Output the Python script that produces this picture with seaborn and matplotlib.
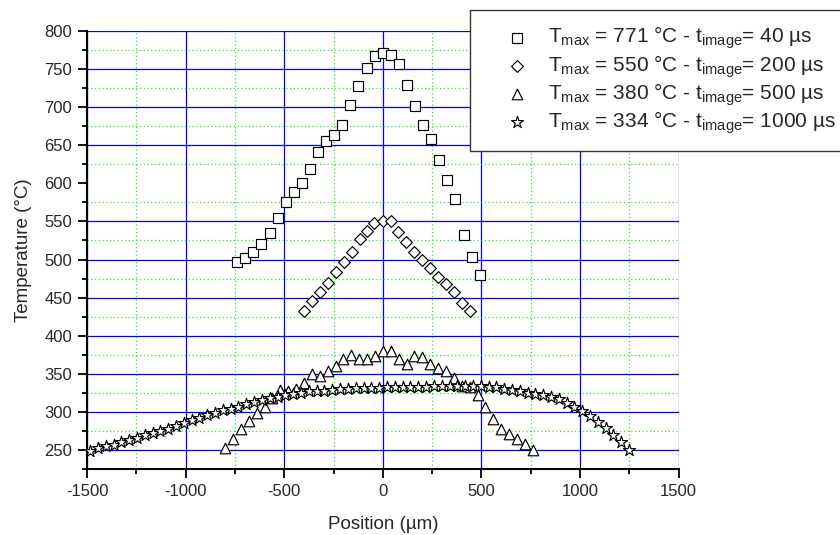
import matplotlib
matplotlib.use("Agg")
import matplotlib.pyplot as plt
from matplotlib.ticker import MultipleLocator
import seaborn as sns
import pandas as pd

# Temperature profiles across the heated zone for four image exposure times
pos_40us = [-740, -697, -657, -616, -574, -533, -493, -452, -410, -369, -329,
            -288, -248, -206, -165, -125, -82, -41, 0, 40, 80, 121, 163, 205,
            246, 286, 327, 367, 410, 451, 491]
temp_40us = [497, 502, 510, 521, 535, 554, 575, 588, 601, 619, 641, 655, 663,
             677, 703, 728, 752, 767, 771, 769, 757, 729, 702, 677, 658, 631,
             605, 580, 532, 503, 479]

pos_200us = [-401, -361, -320, -280, -239, -199, -158, -117, -80, -43, 0, 40,
             78, 119, 160, 200, 239, 279, 319, 360, 400, 442]
temp_200us = [432, 445, 457, 469, 483, 497, 510, 527, 537, 548, 550, 550, 536,
              523, 510, 499, 489, 477, 468, 457, 443, 432]

pos_500us = [-800, -760, -720, -680, -640, -600, -560, -520, -480, -440, -400,
             -360, -320, -280, -240, -200, -160, -120, -80, -40, 0, 40, 80,
             120, 160, 200, 240, 280, 320, 360, 400, 440, 480, 520, 560, 600,
             640, 680, 720, 760]
temp_500us = [252, 265, 277, 288, 299, 307, 318, 329, 328, 330, 338, 350, 347,
              354, 360, 369, 374, 370, 369, 373, 380, 380, 370, 363, 373, 372,
              363, 357, 354, 344, 334, 332, 322, 307, 291, 278, 271, 265, 258,
              250]

pos_1000us = [-1484, -1444, -1405, -1365, -1326, -1286, -1246, -1207, -1167,
              -1128, -1088, -1048, -1009, -969, -930, -890, -850, -811, -771,
              -732, -692, -652, -613, -573, -534, -494, -454, -415, -375, -336,
              -296, -256, -217, -177, -138, -98, -58, -19, 21, 60, 100, 140,
              179, 219, 258, 298, 338, 377, 417, 456, 496, 536, 575, 615, 654,
              694, 734, 773, 813, 852, 892, 932, 971, 1011, 1050, 1090, 1130,
              1169, 1209, 1248]
temp_1000us = [249, 252, 255, 257, 260, 263, 266, 269, 272, 275, 278, 281, 285,
               289, 292, 296, 299, 302, 304, 307, 310, 313, 316, 318, 320, 322,
               324, 325, 327, 328, 328, 329, 330, 330, 331, 331, 331, 331, 332,
               332, 333, 333, 333, 333, 334, 334, 334, 334, 334, 334, 334, 333,
               332, 330, 329, 327, 325, 324, 322, 320, 317, 312, 306, 301, 295,
               287, 279, 270, 260, 250]

legend_labels = [
    r"T$_\mathregular{max}$ = 771 °C - t$_\mathregular{image}$= 40 µs",
    r"T$_\mathregular{max}$ = 550 °C - t$_\mathregular{image}$= 200 µs",
    r"T$_\mathregular{max}$ = 380 °C - t$_\mathregular{image}$= 500 µs",
    r"T$_\mathregular{max}$ = 334 °C - t$_\mathregular{image}$= 1000 µs",
]
x_ticks = [-1500, -1000, -500, 0, 500, 1000, 1500]
y_ticks = [250, 300, 350, 400, 450, 500, 550, 600, 650, 700, 750, 800]

sns.set_style("ticks")
plt.rcParams["font.family"] = ["Liberation Sans", "DejaVu Sans"]
plt.rcParams["mathtext.default"] = "regular"
plt.rcParams["axes.unicode_minus"] = False

fig = plt.figure(figsize=(8.4, 5.35), dpi=100)
ax = fig.add_axes([0.1036, 0.1234, 0.7044, 0.8187])

series = [
    (pos_40us, temp_40us, "s", 48),
    (pos_200us, temp_200us, "D", 36),
    (pos_500us, temp_500us, "^", 58),
    (pos_1000us, temp_1000us, "*", 80),
]
for (xs, ys, mk, size), lab in zip(series, legend_labels):
    df = pd.DataFrame({"Position": xs, "Temperature": ys})
    sns.scatterplot(data=df, x="Position", y="Temperature", ax=ax, marker=mk,
                    s=size, color="white", edgecolor="black", linewidth=0.85,
                    zorder=3, label=lab, legend=False)

ax.set_xlim(-1500, 1500)
ax.set_ylim(225, 800)
ax.set_xticks(x_ticks)
ax.set_yticks(y_ticks)
ax.xaxis.set_minor_locator(MultipleLocator(250))
ax.yaxis.set_minor_locator(MultipleLocator(25))

ax.grid(which="major", color="#0000ff", linestyle="-", linewidth=0.9, zorder=0)
ax.grid(which="minor", color="#22ee22", linestyle=(0, (1, 2)), linewidth=0.9,
        zorder=0)
ax.set_axisbelow(True)
for t in ax.xaxis.get_major_ticks():
    if t.get_loc() == 1500:
        t.gridline.set_visible(False)
for t in ax.yaxis.get_major_ticks():
    if t.get_loc() == 800:
        t.gridline.set_visible(False)

for side in ("top", "right"):
    ax.spines[side].set_visible(False)
for side in ("left", "bottom"):
    ax.spines[side].set_linewidth(1.5)
    ax.spines[side].set_color("black")

ax.tick_params(which="major", direction="out", length=6.8, width=1.3,
               labelsize=12, color="black", pad=4)
ax.tick_params(which="minor", direction="out", length=3.8, width=1.3,
               color="black")
ax.set_xlabel("Position (µm)", fontsize=13.5, labelpad=12)
ax.set_ylabel("Temperature (°C)", fontsize=13.5, labelpad=9)

h, l = ax.get_legend_handles_labels()
leg = ax.legend(h, l, loc="upper left", bbox_to_anchor=(470 / 840, 1 - 10 / 535),
                bbox_transform=fig.transFigure, borderaxespad=0, fontsize=15,
                frameon=True, fancybox=False, framealpha=1, edgecolor="#333333",
                handletextpad=-0.1, labelspacing=0.08, borderpad=0.72,
                markerscale=1.0, handlelength=3.1)
leg.get_frame().set_linewidth(1.0)
leg.set_zorder(10)

fig.savefig("out.png", dpi=100)
